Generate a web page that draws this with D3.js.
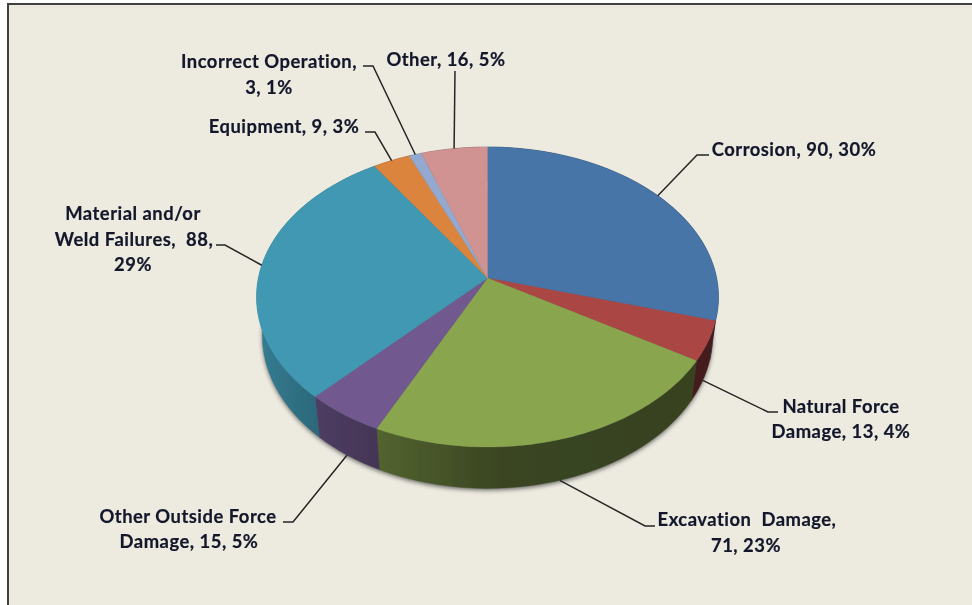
<!DOCTYPE html>
<html><head><meta charset="utf-8">
<script src="https://cdnjs.cloudflare.com/ajax/libs/d3/7.8.5/d3.min.js"></script>
<style>html,body{margin:0;padding:0;background:#fff;overflow:hidden}svg{display:block}
text{font-family:Lato,"Liberation Sans",sans-serif;font-weight:700;font-size:18.4px;letter-spacing:.5px;fill:#12162a;stroke:#12162a;stroke-width:.2px;text-anchor:middle}</style>
</head><body><svg width="972" height="605"></svg>
<script>
const categories=["Corrosion","Natural Force Damage","Excavation Damage","Other Outside Force Damage","Material and/or Weld Failures","Equipment","Incorrect Operation","Other"];
const values=[90,13,71,15,88,9,3,16];
const colors=["#4674a8","#aa4644","#89a54e","#71588f","#4098b2","#db843d","#93a9cf","#d19392"];
const labelLines=[["Corrosion, 90, 30%"],["Natural Force","Damage, 13, 4%"],["Excavation  Damage,","71, 23%"],["Other Outside Force","Damage, 15, 5%"],["Material and/or","Weld Failures,  88,","29%"],["Equipment, 9, 3%"],["Incorrect Operation,","3, 1%"],["Other, 16, 5%"]];
// label layout: per-line centre x, first baseline, elbow and tail of the leader
const labelLayout=[
 {xs:[794],y:155.5,elbow:[697,155],tail:[709,155]},
 {xs:[841,841],y:412.5,elbow:[768,412],tail:[778,412]},
 {xs:[747,746],y:526,elbow:[645,526],tail:[655,526]},
 {xs:[188,189],y:522.5,elbow:[293,522],tail:[283,522]},
 {xs:[133,134,133],y:220,elbow:[225,245],tail:[216,245]},
 {xs:[284],y:132.5,elbow:[375,132],tail:[365,132]},
 {xs:[269,269],y:68,elbow:[373,66],tail:[363,66]},
 {xs:[446],y:66,elbow:[455,71],tail:[455,71]}
];
const shadeX=[257,320,380,500,720], shadeK=[.82,.68,.60,.42,.40];

const cx=487.5, cy=278, persp=.1267, scaleY=147.6, scaleX=229.1;
const wallDrop=38, wallSX=.975, wallSY=1.02;
const svg=d3.select("svg");
const defs=svg.append("defs");
defs.append("filter").attr("id","sh").attr("x","-10%").attr("y","-10%").attr("width","120%").attr("height","120%")
  .append("feGaussianBlur").attr("stdDeviation",2.2);
defs.append("filter").attr("id","soft").attr("filterUnits","userSpaceOnUse").attr("x",0).attr("y",0).attr("width",972).attr("height",605)
  .append("feGaussianBlur").attr("stdDeviation",.35);

svg.append("rect").attr("width",972).attr("height",605).attr("fill","#fff");
const root=svg.append("g").attr("filter","url(#soft)");
root.append("rect").attr("x",8).attr("y",4).attr("width",1000).attr("height",700).attr("fill","#edebe0").attr("stroke","#404040").attr("stroke-width",2);

function rimTop(a){const u=Math.sin(a),v=-Math.cos(a),w=1-persp*v;return [cx+scaleX*u/w,cy+scaleY*v/w];}
function rimLow(a){const p=rimTop(a);return [cx+(p[0]-cx)*wallSX,cy+(p[1]-cy)*wallSY+wallDrop];}
const line=d3.line();
const arcs=d3.pie().sort(null).startAngle(0).endAngle(2*Math.PI)(values);
const samples=(a0,a1)=>{const n=Math.max(3,Math.ceil((a1-a0)*60));return d3.range(n+1).map(i=>a0+(a1-a0)*i/n);};

// shadow
root.append("path").attr("d",line(samples(0,2*Math.PI).map(rimLow))+"Z").attr("fill","#444").attr("opacity",.75)
  .attr("transform","translate(0,2)").attr("filter","url(#sh)");

const shade=d3.scaleLinear().domain(shadeX).range(shadeK).clamp(true);
arcs.forEach((d,i)=>{
  const g=defs.append("linearGradient").attr("id","w"+i).attr("gradientUnits","userSpaceOnUse").attr("x1",shadeX[0]).attr("x2",shadeX[shadeX.length-1]).attr("y1",0).attr("y2",0);
  const c=d3.rgb(colors[i]);
  shadeX.forEach(x=>{const k=shade(x);g.append("stop").attr("offset",(x-shadeX[0])/(shadeX[shadeX.length-1]-shadeX[0])).attr("stop-color",d3.rgb(c.r*k,c.g*k,c.b*k));});
});
// walls
arcs.forEach((d,i)=>{
  const s=samples(d.startAngle,d.endAngle);
  root.append("path").attr("d",line(s.map(rimTop).concat(s.slice().reverse().map(rimLow)))+"Z").attr("fill",`url(#w${i})`).attr("stroke",`url(#w${i})`).attr("stroke-width",.4);
});
// faces
arcs.forEach((d,i)=>{
  const s=samples(d.startAngle,d.endAngle);
  root.append("path").attr("d",line([[cx,cy]].concat(s.map(rimTop)))+"Z").attr("fill",colors[i]).attr("stroke",colors[i]).attr("stroke-width",.3);
});
// leaders
arcs.forEach((d,i)=>{
  const m=(d.startAngle+d.endAngle)/2, front=-Math.cos(m)>0;
  const a=front?rimLow(m):rimTop(m), L=labelLayout[i];
  root.append("path").attr("d",line([a,L.elbow,L.tail])).attr("fill","none").attr("stroke","#262626").attr("stroke-width",1.5);
  labelLines[i].forEach((t,j)=>root.append("text").attr("x",L.xs[j]).attr("y",L.y+j*25.7).style("white-space","pre").text(t));
});
</script></body></html>
